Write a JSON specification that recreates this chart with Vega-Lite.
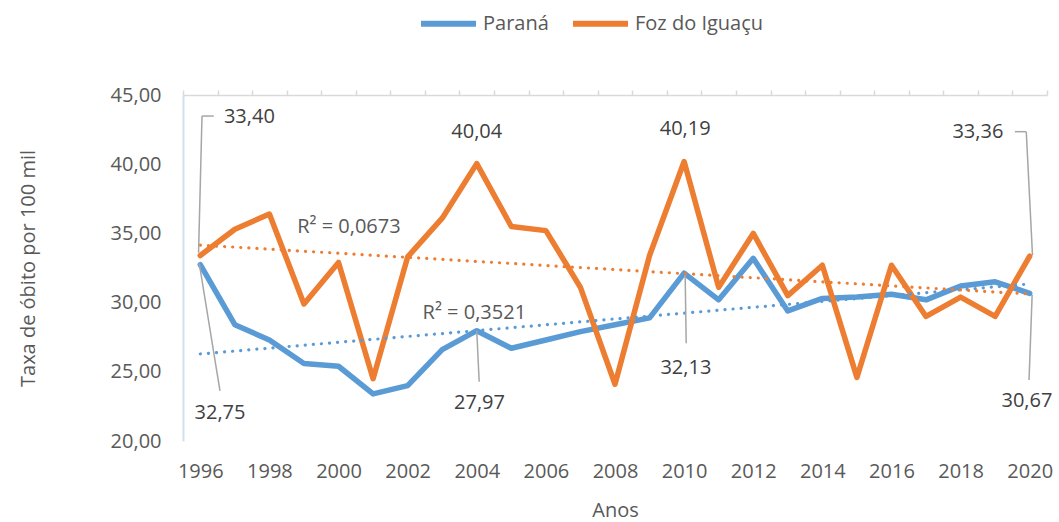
{
  "$schema": "https://vega.github.io/schema/vega-lite/v6.json",
  "autosize": {"type": "none"},
  "padding": {"left": 183, "top": 95, "right": 12, "bottom": 81},
  "width": 864,
  "height": 346,
  "background": "white",
  "config": {
    "view": {"stroke": null},
    "font": "Open Sans",
    "axis": {"labelFont": "Open Sans", "titleFont": "Open Sans", "labelColor": "#595959", "titleColor": "#595959", "titleFontWeight": "normal", "labelFontSize": 20, "titleFontSize": 20, "grid": false}
  },
  "resolve": {"axis": {"x": "independent"}},
  "datasets": {
    "series": [
      {"ano": 1996, "serie": "Paraná", "taxa": 32.75},
      {"ano": 1997, "serie": "Paraná", "taxa": 28.4},
      {"ano": 1998, "serie": "Paraná", "taxa": 27.3},
      {"ano": 1999, "serie": "Paraná", "taxa": 25.6},
      {"ano": 2000, "serie": "Paraná", "taxa": 25.4},
      {"ano": 2001, "serie": "Paraná", "taxa": 23.4},
      {"ano": 2002, "serie": "Paraná", "taxa": 24.0},
      {"ano": 2003, "serie": "Paraná", "taxa": 26.6},
      {"ano": 2004, "serie": "Paraná", "taxa": 27.97},
      {"ano": 2005, "serie": "Paraná", "taxa": 26.7},
      {"ano": 2006, "serie": "Paraná", "taxa": 27.3},
      {"ano": 2007, "serie": "Paraná", "taxa": 27.9},
      {"ano": 2008, "serie": "Paraná", "taxa": 28.4},
      {"ano": 2009, "serie": "Paraná", "taxa": 28.9},
      {"ano": 2010, "serie": "Paraná", "taxa": 32.13},
      {"ano": 2011, "serie": "Paraná", "taxa": 30.2},
      {"ano": 2012, "serie": "Paraná", "taxa": 33.2},
      {"ano": 2013, "serie": "Paraná", "taxa": 29.4},
      {"ano": 2014, "serie": "Paraná", "taxa": 30.3},
      {"ano": 2015, "serie": "Paraná", "taxa": 30.4},
      {"ano": 2016, "serie": "Paraná", "taxa": 30.6},
      {"ano": 2017, "serie": "Paraná", "taxa": 30.2},
      {"ano": 2018, "serie": "Paraná", "taxa": 31.2},
      {"ano": 2019, "serie": "Paraná", "taxa": 31.5},
      {"ano": 2020, "serie": "Paraná", "taxa": 30.67},
      {"ano": 1996, "serie": "Foz do Iguaçu", "taxa": 33.40},
      {"ano": 1997, "serie": "Foz do Iguaçu", "taxa": 35.3},
      {"ano": 1998, "serie": "Foz do Iguaçu", "taxa": 36.4},
      {"ano": 1999, "serie": "Foz do Iguaçu", "taxa": 29.9},
      {"ano": 2000, "serie": "Foz do Iguaçu", "taxa": 32.9},
      {"ano": 2001, "serie": "Foz do Iguaçu", "taxa": 24.5},
      {"ano": 2002, "serie": "Foz do Iguaçu", "taxa": 33.3},
      {"ano": 2003, "serie": "Foz do Iguaçu", "taxa": 36.1},
      {"ano": 2004, "serie": "Foz do Iguaçu", "taxa": 40.04},
      {"ano": 2005, "serie": "Foz do Iguaçu", "taxa": 35.5},
      {"ano": 2006, "serie": "Foz do Iguaçu", "taxa": 35.2},
      {"ano": 2007, "serie": "Foz do Iguaçu", "taxa": 31.1},
      {"ano": 2008, "serie": "Foz do Iguaçu", "taxa": 24.1},
      {"ano": 2009, "serie": "Foz do Iguaçu", "taxa": 33.4},
      {"ano": 2010, "serie": "Foz do Iguaçu", "taxa": 40.19},
      {"ano": 2011, "serie": "Foz do Iguaçu", "taxa": 31.1},
      {"ano": 2012, "serie": "Foz do Iguaçu", "taxa": 35.0},
      {"ano": 2013, "serie": "Foz do Iguaçu", "taxa": 30.5},
      {"ano": 2014, "serie": "Foz do Iguaçu", "taxa": 32.7},
      {"ano": 2015, "serie": "Foz do Iguaçu", "taxa": 24.6},
      {"ano": 2016, "serie": "Foz do Iguaçu", "taxa": 32.7},
      {"ano": 2017, "serie": "Foz do Iguaçu", "taxa": 29.0},
      {"ano": 2018, "serie": "Foz do Iguaçu", "taxa": 30.4},
      {"ano": 2019, "serie": "Foz do Iguaçu", "taxa": 29.0},
      {"ano": 2020, "serie": "Foz do Iguaçu", "taxa": 33.36}
    ],
    "leaders": [
      {"x": 1995.95, "y": 33.6, "x2": 1996.05, "y2": 43.48},
      {"x": 1996.05, "y": 43.48, "x2": 1996.39, "y2": 43.48},
      {"x": 1995.97, "y": 32.84, "x2": 1996.57, "y2": 23.63},
      {"x": 2004.0, "y": 27.97, "x2": 2004.07, "y2": 24.28},
      {"x": 2010.03, "y": 32.0, "x2": 2010.06, "y2": 27.06},
      {"x": 2020.08, "y": 33.44, "x2": 2019.9, "y2": 42.35},
      {"x": 2019.9, "y": 42.35, "x2": 2019.57, "y2": 42.35},
      {"x": 2020.07, "y": 30.55, "x2": 2019.98, "y2": 24.41}
    ],
    "rotulos": [
      {"x": 1997.42, "y": 43.38, "texto": "33,40", "tipo": "valor"},
      {"x": 1996.57, "y": 22.04, "texto": "32,75", "tipo": "valor"},
      {"x": 2004.0, "y": 42.35, "texto": "40,04", "tipo": "valor"},
      {"x": 2004.08, "y": 22.77, "texto": "27,97", "tipo": "valor"},
      {"x": 2010.03, "y": 42.52, "texto": "40,19", "tipo": "valor"},
      {"x": 2010.05, "y": 25.27, "texto": "32,13", "tipo": "valor"},
      {"x": 2018.5, "y": 42.35, "texto": "33,36", "tipo": "valor"},
      {"x": 2019.92, "y": 22.89, "texto": "30,67", "tipo": "valor"},
      {"x": 2000.3, "y": 35.48, "texto": "R² = 0,0673", "tipo": "r2"},
      {"x": 2003.93, "y": 29.23, "texto": "R² = 0,3521", "tipo": "r2"}
    ]
  },
  "layer": [
    {
      "data": {"name": "series"},
      "mark": {"type": "line", "strokeWidth": 5.5, "strokeJoin": "round", "strokeCap": "round"},
      "encoding": {
        "x": {
          "field": "ano", "type": "quantitative",
          "scale": {"domain": [1995.5, 2020.5], "nice": false, "zero": false},
          "axis": {
            "title": "Anos",
            "values": [1996, 1998, 2000, 2002, 2004, 2006, 2008, 2010, 2012, 2014, 2016, 2018, 2020],
            "format": "d",
            "labelOverlap": false,
            "labelFlush": false,
            "ticks": false,
            "tickSize": 5,
            "domain": false,
            "labelPadding": 20,
            "titlePadding": 19
          }
        },
        "y": {
          "field": "taxa", "type": "quantitative",
          "scale": {"domain": [20, 45], "nice": false, "zero": false},
          "axis": {
            "title": "Taxa de óbito por 100 mil",
            "values": [20, 25, 30, 35, 40, 45],
            "labelExpr": "replace(format(datum.value, '.2f'), '.', ',')",
            "ticks": false,
            "tickSize": 0,
            "labelPadding": 22,
            "domainColor": "#cfe0f2",
            "domainWidth": 2,
            "titlePadding": 72
          }
        },
        "color": {
          "field": "serie", "type": "nominal",
          "scale": {"domain": ["Paraná", "Foz do Iguaçu"], "range": ["#5B9BD5", "#ED7D31"]},
          "legend": {
            "title": null,
            "orient": "none",
            "direction": "horizontal",
            "legendX": 235,
            "legendY": -102,
            "symbolType": "stroke",
            "symbolSize": 3025,
            "symbolStrokeWidth": 6,
            "labelFont": "Open Sans",
            "labelFontSize": 20,
            "labelColor": "#595959",
            "labelOffset": 4,
            "columnPadding": 12
          }
        }
      }
    },
    {
      "data": {"name": "series"},
      "transform": [
        {"regression": "taxa", "on": "ano", "groupby": ["serie"], "method": "linear", "extent": [1996, 2020]}
      ],
      "mark": {"type": "line", "strokeWidth": 3.2, "strokeDash": [0.1, 8], "strokeCap": "round"},
      "encoding": {
        "x": {"field": "ano", "type": "quantitative", "axis": null},
        "y": {"field": "taxa", "type": "quantitative"},
        "color": {"field": "serie", "type": "nominal", "legend": null}
      }
    },
    {
      "data": {"name": "leaders"},
      "mark": {"type": "rule", "color": "#a6a6a6", "strokeWidth": 1.5},
      "encoding": {
        "x": {
          "field": "x", "type": "quantitative",
          "axis": {
            "title": null,
            "values": [1995.5, 1996.5, 1997.5, 1998.5, 1999.5, 2000.5, 2001.5, 2002.5, 2003.5, 2004.5, 2005.5, 2006.5, 2007.5, 2008.5, 2009.5, 2010.5, 2011.5, 2012.5, 2013.5, 2014.5, 2015.5, 2016.5, 2017.5, 2018.5, 2019.5, 2020.5],
            "labels": false,
            "ticks": true,
            "tickSize": 5,
            "tickColor": "#d9d9d9",
            "tickWidth": 1.5,
            "domain": true,
            "domainColor": "#d9d9d9",
            "domainWidth": 1.5
          }
        },
        "y": {"field": "y", "type": "quantitative"},
        "x2": {"field": "x2"},
        "y2": {"field": "y2"}
      }
    },
    {
      "data": {"name": "rotulos"},
      "mark": {"type": "text", "font": "Open Sans", "fontSize": 20, "baseline": "middle", "align": "center"},
      "encoding": {
        "x": {"field": "x", "type": "quantitative", "axis": null},
        "y": {"field": "y", "type": "quantitative"},
        "text": {"field": "texto"},
        "color": {"condition": {"test": "datum.tipo === 'r2'", "value": "#595959"}, "value": "#404040"}
      }
    }
  ]
}
